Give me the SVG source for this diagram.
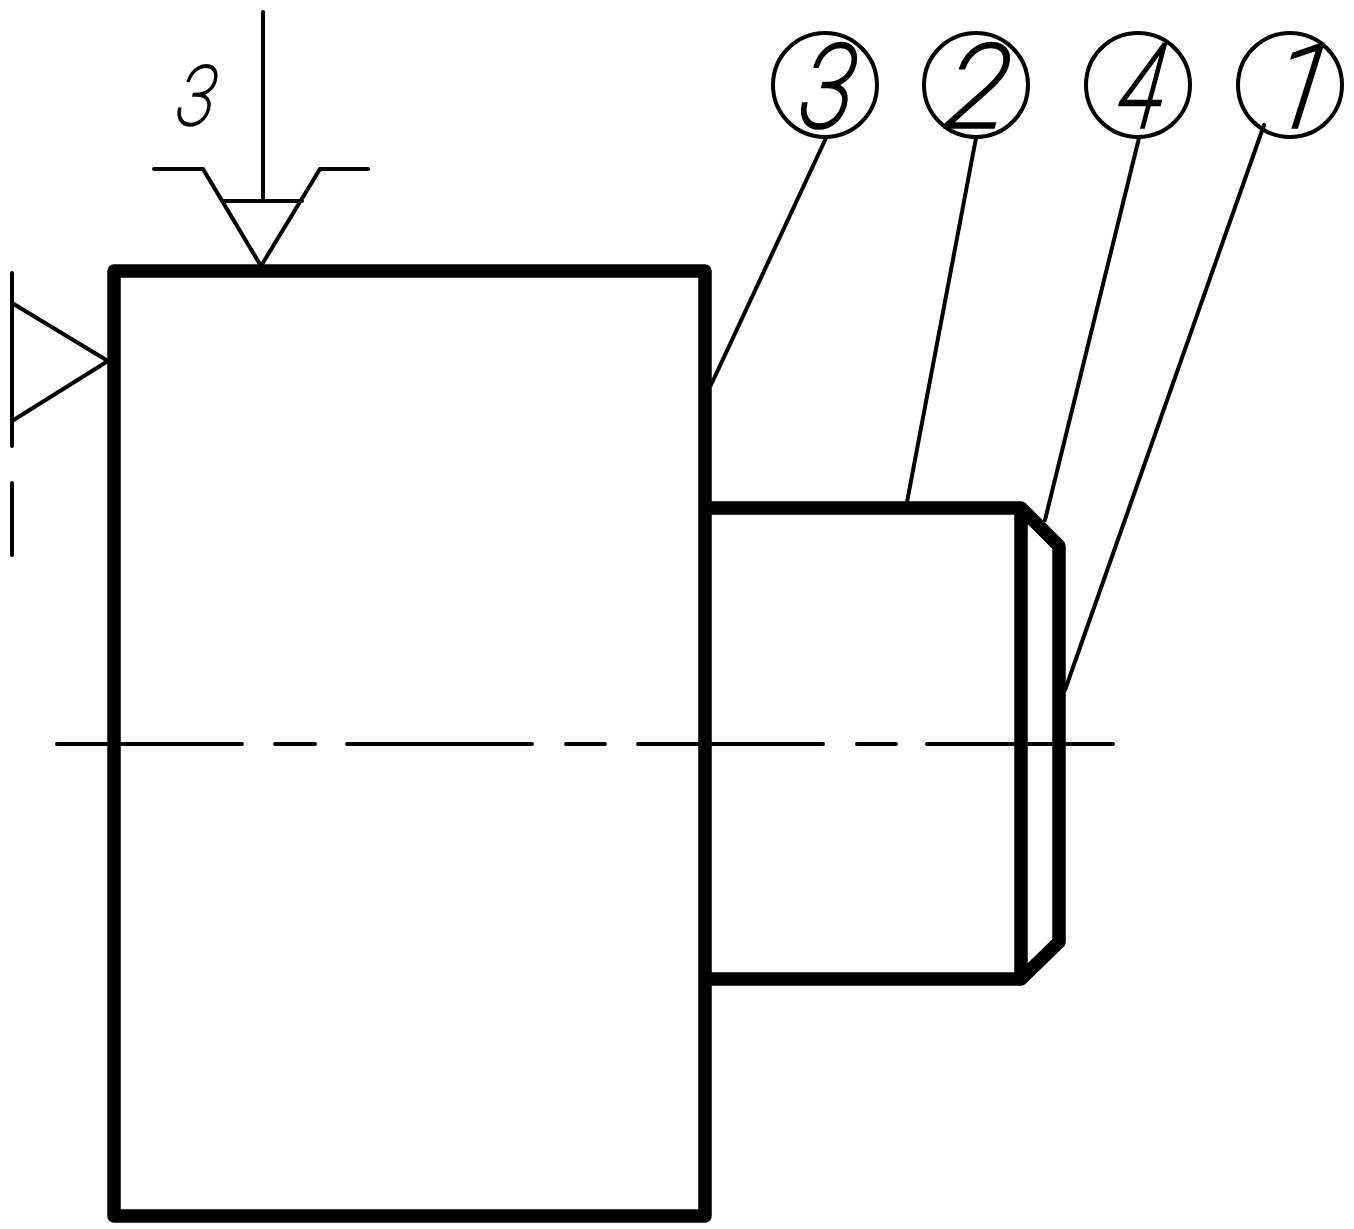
<svg xmlns="http://www.w3.org/2000/svg" width="1354" height="1229" viewBox="0 0 1354 1229">
<style>
.thick{fill:none;stroke:#000;stroke-width:13.5;stroke-linejoin:round;stroke-linecap:butt}
.thin{fill:none;stroke:#000;stroke-width:4;stroke-linecap:round;stroke-linejoin:miter}
.num{font-family:"Roboto","Liberation Sans",sans-serif;font-weight:100;font-style:italic;fill:#000;stroke:#000;stroke-width:3.5;text-anchor:middle;font-size:116px}
</style>
<rect width="1354" height="1229" fill="#fff"/>
<g id="part">
<rect class="thick" x="114" y="271" width="591" height="945"/>
<path class="thick" d="M705 508H1021V979H705M1021 508L1059 546V942L1021 979"/>
</g>
<g id="centerline">
<path class="thin" d="M57 744H242M275 744H315M347 744H532M566 744H605M638 744H823M857 744H896M927 744H1113"/>
</g>
<g id="connectors">
<path class="thin" d="M826 138L711 385M976 138L907 502M1139 138L1045 520M1264 125L1065 690"/>
</g>
<g id="datum-top">
<path class="thin" d="M263 12V200M154 169H203L261 266L320 169H368M222 201H302"/>
<text class="num" transform="translate(193 125) skewX(-8) scale(.62 .72)" style="stroke-width:2.5">3</text>
</g>
<g id="datum-left">
<path class="thin" d="M12 273V446M12 483V555M12 303L108 361L12 421"/>
</g>
<g id="callout-3"><circle class="thin" cx="825" cy="85" r="52"/><text class="num" transform="translate(823 127) skewX(-8) scale(.85 1)">3</text></g>
<g id="callout-2"><circle class="thin" cx="976" cy="85" r="52"/><text class="num" transform="translate(973 127) skewX(-8) scale(1 1)">2</text></g>
<g id="callout-4"><circle class="thin" cx="1138" cy="85" r="52"/><text class="num" transform="translate(1137 127) skewX(-8) scale(.72 1)">4</text></g>
<g id="callout-1"><circle class="thin" cx="1290" cy="85" r="52"/><text class="num" transform="translate(1297 127) skewX(-8)">1</text></g>
</svg>
